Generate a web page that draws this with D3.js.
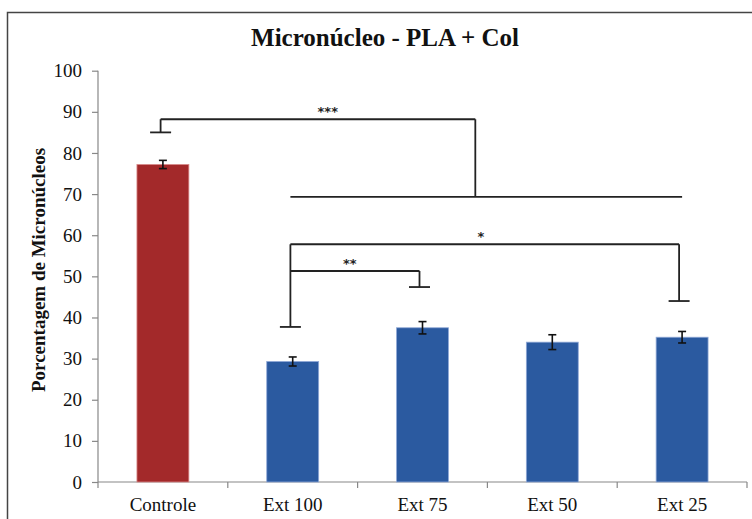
<!DOCTYPE html>
<html><head><meta charset="utf-8">
<script src="https://cdn.jsdelivr.net/npm/d3@7"></script>
<style>body{margin:0;background:#fff}svg{display:block}
text{font-family:"Liberation Serif","DejaVu Serif",serif}
</style>
</head><body>
<svg id="c" width="752" height="519"></svg>
<script>
const categories = ["Controle","Ext 100","Ext 75","Ext 50","Ext 25"];
const values = [77.2, 29.3, 37.5, 34.0, 35.2];
const errors = [1.0, 1.1, 1.5, 1.8, 1.4];
const barColors = ["#a3292a","#2b5aa0","#2b5aa0","#2b5aa0","#2b5aa0"];
const yTicks = [0,10,20,30,40,50,60,70,80,90,100];
// significance brackets: from/to in category index, levels in data units
const brackets = [
  {label:"***", from:0, to:2.43, top:88.2, fromEnd:85.0, toEnd:69.3, labelAt:1.27},
  {label:"*",   from:1, to:4,    top:57.8, fromEnd:37.7, toEnd:44.0, labelAt:2.45},
  {label:"**",  from:1, to:2,    top:51.3, fromEnd:null, toEnd:47.4, labelAt:1.44}
];
const groupLine = {from:1, to:4, level:69.3};

const svg = d3.select("#c");

svg.append("rect").attr("x",7.5).attr("y",12.5).attr("width",800).attr("height",600)
  .attr("fill","none").attr("stroke","#444").attr("stroke-width",1.5);

const x = d3.scaleBand().domain(categories).range([98,747]).paddingInner(0.6).paddingOuter(0.3);
const y = d3.scaleLinear().domain([0,100]).range([482,70.7]);
const cx = i => x(categories[0]) + x.bandwidth()/2 + i*x.step();

svg.append("text").attr("x",385).attr("y",46).attr("text-anchor","middle")
  .style("font-weight","bold").style("font-size","25px")
  .attr("fill","#111").text("Micronúcleo - PLA + Col");

const yAxis = svg.append("g").attr("transform","translate(98,0)")
  .call(d3.axisLeft(y).tickValues(yTicks).tickSize(6).tickPadding(10));
yAxis.attr("font-family",null).attr("font-size",null);
yAxis.selectAll("path,line").attr("stroke","#888").attr("stroke-width",1.2);
yAxis.select(".domain").attr("d","M0,"+y(100)+"V"+y(0));
yAxis.selectAll("text").style("font-size","19px").attr("fill","#111");

const xAxis = svg.append("g").attr("transform","translate(0,482)")
  .call(d3.axisBottom(x).tickSize(0).tickPadding(15.5));
xAxis.attr("font-family",null).attr("font-size",null);
xAxis.select(".domain").attr("stroke","#888").attr("stroke-width",1.2).attr("d","M98,0H747");
xAxis.selectAll("text").style("font-size","19px").attr("fill","#111");
const bounds = d3.range(categories.length+1).map(i => cx(i) - x.step()/2);
xAxis.selectAll(".bt").data(bounds).join("line").attr("class","bt")
  .attr("x1",d=>d).attr("x2",d=>d).attr("y1",0).attr("y2",6)
  .attr("stroke","#888").attr("stroke-width",1.2);

svg.append("text").attr("transform","translate(45,270) rotate(-90)")
  .attr("text-anchor","middle").style("font-weight","bold")
  .style("font-size","19px").attr("fill","#111").text("Porcentagem de Micronúcleos");

svg.selectAll(".bar").data(categories).join("rect").attr("class","bar")
  .attr("x",d=>x(d)).attr("width",x.bandwidth())
  .attr("y",(d,i)=>y(values[i])).attr("height",(d,i)=>y(0)-y(values[i]))
  .attr("fill",(d,i)=>barColors[i]).attr("stroke",(d,i)=>i?"#8fa8d6":"#d88a8a").attr("stroke-width",0.8);

const eb = svg.append("g").attr("stroke","#111").attr("stroke-width",1.6);
categories.forEach((c,i)=>{
  const xc = x(c)+x.bandwidth()/2;
  eb.append("line").attr("x1",xc).attr("x2",xc).attr("y1",y(values[i]+errors[i])).attr("y2",y(values[i]-errors[i]));
  [values[i]+errors[i], values[i]-errors[i]].forEach(v=>
    eb.append("line").attr("x1",xc-4).attr("x2",xc+4).attr("y1",y(v)).attr("y2",y(v)));
});

const bg = svg.append("g").attr("stroke","#222").attr("stroke-width",1.8).attr("fill","none");
const capW = 10.5;
brackets.forEach(b=>{
  const x1 = cx(b.from)-2.3, x2 = cx(b.to)-3;
  bg.append("line").attr("x1",x1).attr("x2",x2).attr("y1",y(b.top)).attr("y2",y(b.top));
  if (b.fromEnd!==null){
    bg.append("line").attr("x1",x1).attr("x2",x1).attr("y1",y(b.top)).attr("y2",y(b.fromEnd));
    bg.append("line").attr("x1",x1-capW).attr("x2",x1+capW).attr("y1",y(b.fromEnd)).attr("y2",y(b.fromEnd));
  }
  bg.append("line").attr("x1",x2).attr("x2",x2).attr("y1",y(b.top)).attr("y2",y(b.toEnd));
  if (b.label!=="***") bg.append("line").attr("x1",x2-capW).attr("x2",x2+capW).attr("y1",y(b.toEnd)).attr("y2",y(b.toEnd));
  svg.append("text").attr("x",cx(b.labelAt)).attr("y",y(b.top)-3).attr("text-anchor","middle")
    .style("font-family","'DejaVu Sans',sans-serif").style("font-weight","bold").style("font-size","13px")
    .attr("fill","#222").text(b.label);
});
bg.append("line").attr("x1",cx(groupLine.from)-2.3).attr("x2",cx(groupLine.to)).attr("y1",y(groupLine.level)).attr("y2",y(groupLine.level));
</script>
</body></html>
